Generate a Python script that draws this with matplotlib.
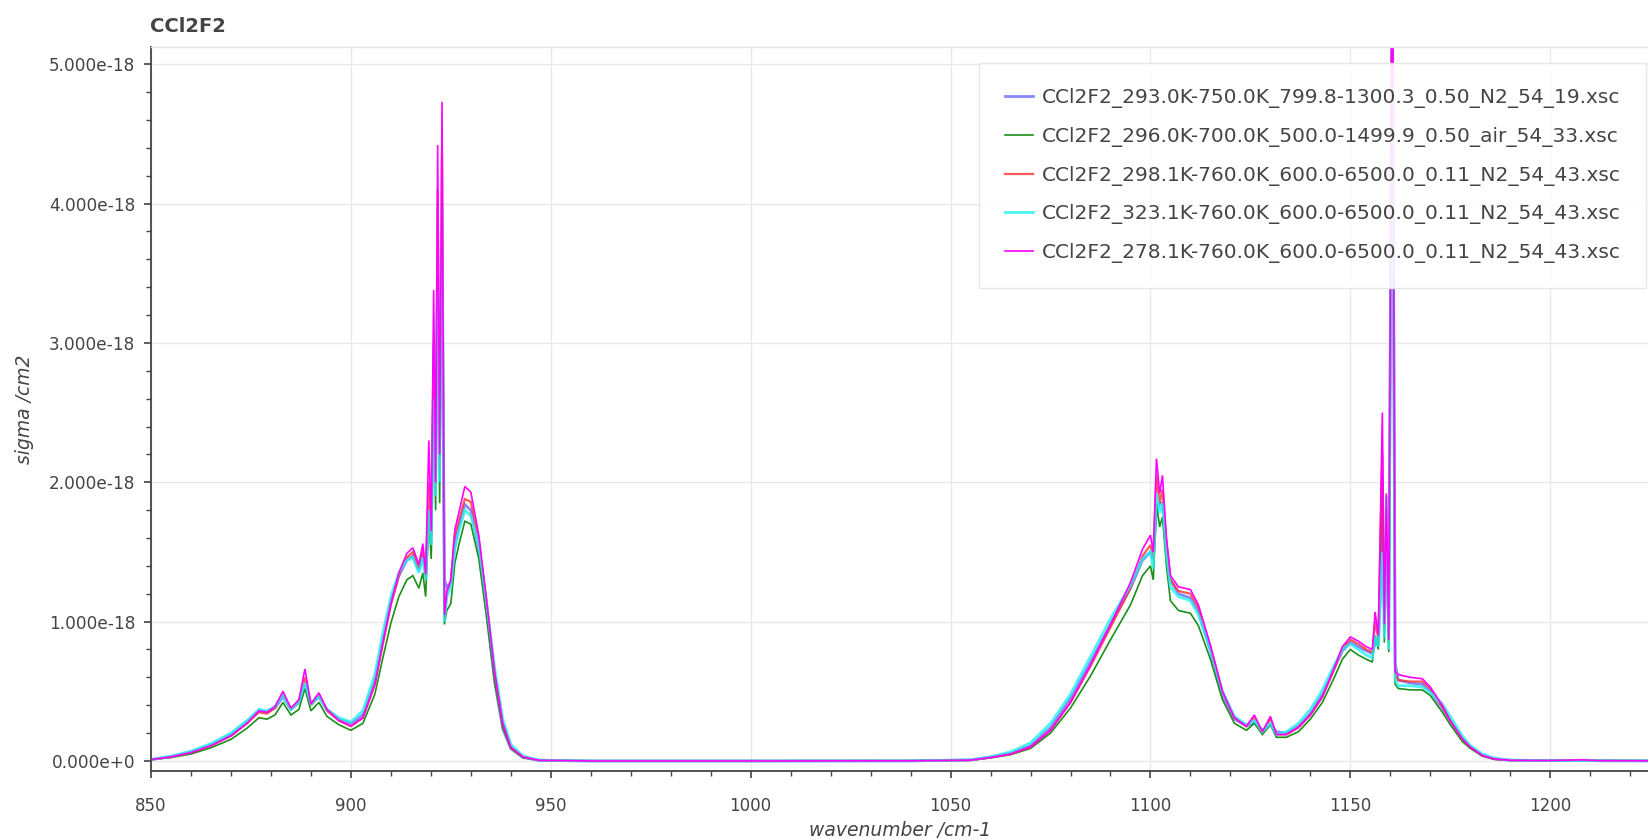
import matplotlib
matplotlib.use("Agg")
import matplotlib.pyplot as plt
from matplotlib.ticker import FixedLocator, FuncFormatter
import numpy as np

plt.rcParams['font.family'] = ['DejaVu Sans']

title = "CCl2F2"
xlabel = "wavenumber /cm-1"
ylabel = "sigma /cm2"

labels = [
    "CCl2F2_293.0K-750.0K_799.8-1300.3_0.50_N2_54_19.xsc",
    "CCl2F2_296.0K-700.0K_500.0-1499.9_0.50_air_54_33.xsc",
    "CCl2F2_298.1K-760.0K_600.0-6500.0_0.11_N2_54_43.xsc",
    "CCl2F2_323.1K-760.0K_600.0-6500.0_0.11_N2_54_43.xsc",
    "CCl2F2_278.1K-760.0K_600.0-6500.0_0.11_N2_54_43.xsc",
]

x_major = [850, 900, 950, 1000, 1050, 1100, 1150, 1200]
x_minor = [860, 870, 880, 890, 910, 920, 930, 940, 960, 970, 980, 990, 1010, 1020, 1030, 1040,
           1060, 1070, 1080, 1090, 1110, 1120, 1130, 1140, 1160, 1170, 1180, 1190, 1210, 1220]
y_major = [0, 1, 2, 3, 4, 5]            # units of 1e-18
y_minor = [0.2, 0.4, 0.6, 0.8, 1.2, 1.4, 1.6, 1.8, 2.2, 2.4, 2.6, 2.8, 3.2, 3.4, 3.6, 3.8,
           4.2, 4.4, 4.6, 4.8]

# wavenumber grid (cm-1)
wn = [850, 855, 860, 865, 870, 874, 877, 879, 881, 883, 885, 887, 888.5, 890, 892, 894, 897, 900,
      903, 906, 908, 910, 912, 914, 915.5, 917, 918, 918.7, 919.5, 920.1, 920.7, 921.2, 921.7, 922.2,
      922.8, 923.4, 924, 925, 926, 927, 928.5, 930, 932, 934, 936, 938, 940, 943, 947, 960, 1000, 1040,
      1055, 1060, 1065, 1070, 1075, 1080, 1085, 1090, 1095, 1098, 1100, 1100.7, 1101.5, 1102.3, 1103,
      1104, 1105, 1107, 1110, 1112, 1115, 1118, 1121, 1124, 1126, 1128, 1130, 1131.5, 1134, 1137, 1140,
      1143, 1146, 1148, 1150, 1152, 1154, 1155.5, 1156.2, 1157, 1158, 1158.5, 1159, 1159.6, 1160.5,
      1161.2, 1162, 1165, 1168, 1170, 1173, 1175, 1178, 1180, 1183, 1186, 1190, 1200, 1208, 1212, 1225]

# cross sections in units of 1e-18 cm2
s_293 = [.01, .03, .065, .115, .19, .28, .36, .35, .38, .46, .37, .42, .55, .41, .46, .37, .30, .27,
         .33, .58, .87, 1.14, 1.33, 1.44, 1.47, 1.37, 1.48, 1.35, 1.8, 1.7, 2.6, 2.1, 3.4, 2.5,
         3.6, 1.3, 1.25, 1.28, 1.55, 1.68, 1.84, 1.80, 1.52, 1.05, .56, .23, .09, .025, .005, 0, 0, .001,
         .007, .028, .055, .11, .24, .45, .71, .98, 1.24, 1.44, 1.50, 1.45, 1.8, 1.85, 1.85,
         1.55, 1.3, 1.2, 1.17, 1.07, .79, .47, .30, .25, .28, .22, .26, .21, .20, .25, .34,
         .48, .67, .79, .85, .82, .79, .77, .85, .86, 1.6, 1.1, 1.6, .95, 5.8,
         .70, .58, .56, .55, .50, .38, .29, .16, .10, .04, .015, .005, .003, .005, .002, .001]

s_296 = [.01, .025, .05, .095, .155, .235, .31, .30, .33, .42, .33, .37, .52, .36, .42, .32, .26, .22,
         .27, .48, .74, .99, 1.18, 1.30, 1.33, 1.24, 1.35, 1.18, 1.75, 1.45, 2.65, 1.8, 3.7, 1.85,
         3.9, .98, 1.08, 1.13, 1.42, 1.55, 1.72, 1.70, 1.45, 1.02, .56, .24, .09, .025, .004, 0, 0, .001,
         .005, .022, .045, .09, .20, .38, .61, .87, 1.12, 1.33, 1.40, 1.30, 1.85, 1.68, 1.75,
         1.40, 1.15, 1.08, 1.06, .97, .73, .44, .27, .22, .27, .19, .26, .17, .17, .21, .30,
         .42, .60, .73, .80, .76, .73, .71, .90, .80, 2.0, .85, 1.6, .78, 5.5,
         .55, .52, .51, .51, .47, .35, .26, .14, .09, .035, .012, .005, .003, .004, .002, .001]

s_298 = [.01, .03, .06, .11, .18, .27, .35, .34, .38, .48, .37, .42, .60, .40, .47, .36, .29, .25,
         .31, .55, .84, 1.12, 1.33, 1.46, 1.50, 1.38, 1.52, 1.32, 2.0, 1.62, 3.0, 1.95, 4.1, 2.1,
         4.35, 1.02, 1.2, 1.28, 1.62, 1.72, 1.88, 1.86, 1.58, 1.12, .62, .27, .10, .03, .005, 0, 0, .001,
         .006, .025, .05, .10, .22, .42, .68, .96, 1.24, 1.47, 1.55, 1.45, 2.05, 1.85, 1.95,
         1.55, 1.3, 1.22, 1.2, 1.1, .82, .5, .31, .25, .31, .21, .30, .19, .19, .24, .33,
         .46, .66, .80, .87, .84, .80, .78, 1.0, .88, 2.2, .95, 1.8, .85, 6.0,
         .62, .58, .57, .57, .52, .39, .29, .16, .10, .04, .015, .005, .003, .006, .002, .001]

s_323 = [.01, .035, .07, .125, .20, .29, .37, .36, .39, .47, .37, .42, .56, .41, .46, .37, .31, .28,
         .36, .62, .92, 1.18, 1.35, 1.44, 1.46, 1.35, 1.46, 1.30, 1.8, 1.55, 2.6, 1.9, 3.6, 2.0,
         4.0, 1.0, 1.18, 1.25, 1.52, 1.65, 1.80, 1.76, 1.55, 1.12, .66, .30, .12, .035, .006, 0, 0, .001,
         .008, .03, .065, .13, .27, .48, .75, 1.02, 1.26, 1.45, 1.50, 1.38, 1.92, 1.78, 1.85,
         1.48, 1.25, 1.18, 1.15, 1.05, .80, .50, .32, .26, .29, .21, .27, .19, .21, .27, .37,
         .51, .69, .80, .84, .80, .76, .74, .9, .82, 1.5, .88, 1.9, .8, 5.5,
         .58, .54, .54, .53, .49, .41, .32, .18, .11, .05, .02, .006, .003, .004, .002, .001]

s_278 = [.01, .03, .06, .11, .18, .27, .36, .35, .39, .50, .38, .44, .66, .41, .49, .37, .29, .25,
         .31, .55, .85, 1.13, 1.35, 1.49, 1.53, 1.41, 1.56, 1.34, 2.3, 1.65, 3.38, 2.0, 4.42, 2.2,
         4.73, 1.05, 1.22, 1.3, 1.66, 1.78, 1.97, 1.93, 1.62, 1.14, .63, .27, .10, .03, .005, 0, 0, .001,
         .006, .025, .05, .10, .22, .42, .69, .98, 1.28, 1.52, 1.62, 1.5, 2.17, 1.92, 2.05,
         1.6, 1.33, 1.25, 1.23, 1.12, .83, .5, .31, .25, .33, .21, .32, .19, .19, .24, .33,
         .46, .67, .82, .89, .86, .82, .80, 1.07, .90, 2.5, .98, 1.92, .87, 6.5,
         .64, .62, .60, .59, .53, .40, .29, .16, .10, .04, .015, .005, .003, .008, .002, .001]

series = [s_293, s_296, s_298, s_323, s_278]
colors = ["#5555ff", "#1a8f1a", "#ff3030", "#22f0f0", "#ff00ff"]
alphas = [0.7, 1.0, 0.8, 0.8, 1.0]
widths = [2.0, 1.2, 1.6, 2.0, 1.2]

UNIT = 1e-18
TXT = "#444444"

fig = plt.figure(figsize=(16.49, 8.39), dpi=100)
ax = fig.add_axes([151 / 1649, (839 - 771) / 839, (1649 - 151) / 1649, (771 - 47) / 839])

x = np.array(wn)
for s, c, a, w, lab in zip(series, colors, alphas, widths, labels):
    ax.plot(x, np.array(s) * UNIT, color=c, alpha=a, lw=w, label=lab, solid_joinstyle='miter')

ax.set_xlim(850, 1224.7)
ax.set_ylim(-0.072 * UNIT, 5.124 * UNIT)

ax.xaxis.set_major_locator(FixedLocator(x_major))
ax.xaxis.set_minor_locator(FixedLocator(x_minor))
ax.yaxis.set_major_locator(FixedLocator([v * UNIT for v in y_major]))
ax.yaxis.set_minor_locator(FixedLocator([v * UNIT for v in y_minor]))


def yfmt(v, pos):
    if abs(v) < 1e-30:
        return "0.000e+0"
    exp = int(np.floor(np.log10(abs(v))))
    m = v / 10 ** exp
    return f"{m:.3f}e{exp:+d}"


ax.yaxis.set_major_formatter(FuncFormatter(yfmt))

ax.grid(True, which='major', color='#e8e8e8', lw=1.0)
ax.set_axisbelow(True)

for side in ['left', 'bottom']:
    ax.spines[side].set_color(TXT)
    ax.spines[side].set_linewidth(1.3)
for side in ['top', 'right']:
    ax.spines[side].set_color('#e5e5e5')
    ax.spines[side].set_linewidth(1.0)

ax.tick_params(which='major', direction='out', length=5, width=1.2, color=TXT, labelcolor=TXT)
ax.tick_params(which='minor', direction='out', length=3.5, width=1.0, color=TXT)
ax.tick_params(axis='x', which='major', pad=14, labelsize=12)
ax.tick_params(axis='y', which='major', pad=6.5, labelsize=12.2)

ax.set_xlabel(xlabel, fontsize=13.5, style='italic', color=TXT)
ax.set_ylabel(ylabel, fontsize=13.5, style='italic', color=TXT)
ax.xaxis.set_label_coords(0.5, (771 - 831) / 724)
ax.xaxis.label.set_va('center')
ax.yaxis.set_label_coords((25 - 151) / 1498, 0.5)
ax.yaxis.label.set_va('center')

fig.text(150 / 1649, 1 - 27 / 839, title, fontsize=14, fontweight='bold', color=TXT,
         ha='left', va='center')

leg = ax.legend(loc='upper left', bbox_to_anchor=(0.553, 0.978), frameon=True, framealpha=0.9,
                edgecolor='#e5e5e5', fancybox=False, fontsize=14.5, handlelength=1.4,
                handletextpad=0.45, labelspacing=0.93, borderpad=1.25, borderaxespad=0)
leg.get_frame().set_linewidth(1.0)
for t in leg.get_texts():
    t.set_color(TXT)

fig.savefig("out.png", dpi=100)
